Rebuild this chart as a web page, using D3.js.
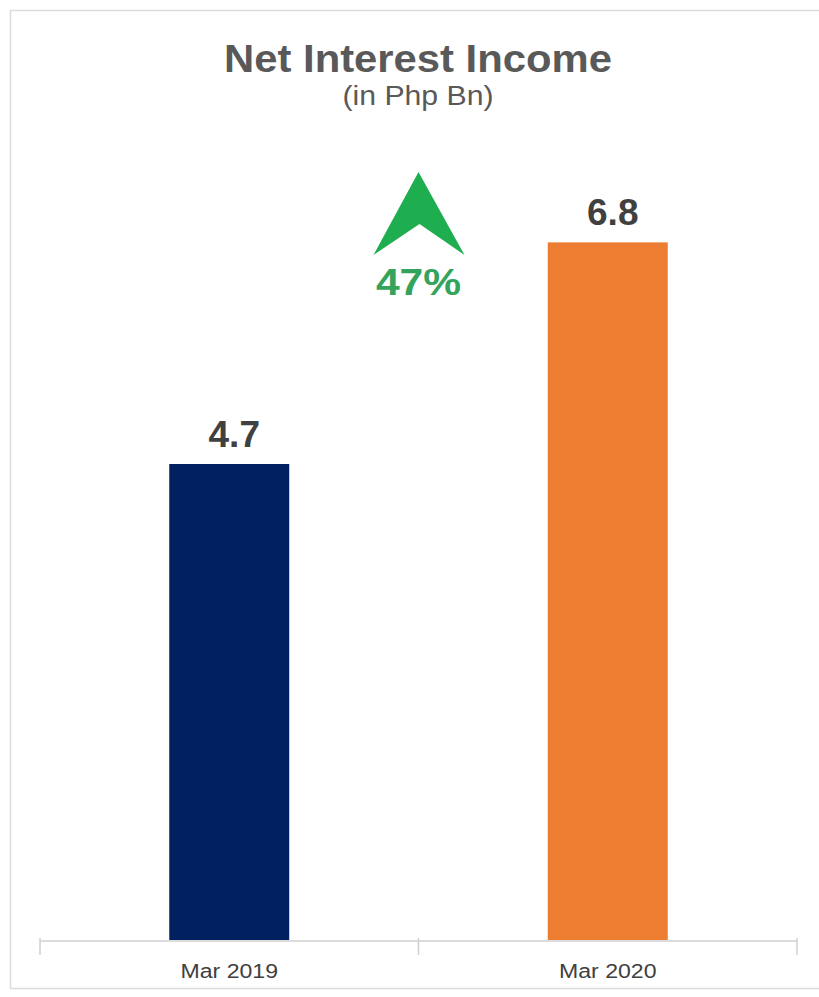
<!DOCTYPE html>
<html><head><meta charset="utf-8">
<script src="https://cdn.jsdelivr.net/npm/d3@7"></script>
<style>html,body{margin:0;padding:0;background:#fff;}svg{display:block;font-family:"Liberation Sans",Arial,sans-serif;}</style>
</head><body>
<script>
const categories = ["Mar 2019", "Mar 2020"];
const values = [4.66, 6.83];
const colors = ["#002060", "#ED7D31"];
const growthLabel = "47%";
const titleText = "Net Interest Income";
const subtitleText = "(in Php Bn)";

const W = 819, H = 997;
const svg = d3.select("body").append("svg").attr("width", W).attr("height", H);

svg.append("rect").attr("x", 10.5).attr("y", 10.5).attr("width", 830).attr("height", 978)
  .attr("fill", "none").attr("stroke", "#dcdcdc").attr("stroke-width", 1.5);

const x = d3.scaleBand().domain(categories).range([40, 797]).paddingInner(0.683).paddingOuter(0.3415);
const y = d3.scaleLinear().domain([0, 7]).range([940, 225]);

// title
svg.append("text").attr("transform", "translate(418,72) scale(1.1,1)")
  .attr("text-anchor", "middle").attr("font-size", 38).attr("font-weight", "bold")
  .attr("fill", "#595959").text(titleText);
svg.append("text").attr("transform", "translate(418,105) scale(1.12,1)")
  .attr("text-anchor", "middle").attr("font-size", 27)
  .attr("fill", "#595959").text(subtitleText);

// bars
svg.selectAll("rect.bar").data(values).join("rect").attr("class", "bar")
  .attr("x", (d, i) => x(categories[i])).attr("width", x.bandwidth())
  .attr("y", d => y(d)).attr("height", d => y(0) - y(d))
  .attr("fill", (d, i) => colors[i]);

// value labels
svg.selectAll("text.val").data(values).join("text").attr("class", "val")
  .attr("x", (d, i) => x(categories[i]) + x.bandwidth() / 2 + 5)
  .attr("y", d => y(d) - 17)
  .attr("text-anchor", "middle").attr("font-size", 37).attr("font-weight", "bold")
  .attr("fill", "#404040").text(d => d3.format(".1f")(d));

// axis line and boundary ticks
const axisY = 941;
const step = x.step();
const boundaries = [x(categories[0]) - step * x.paddingInner() / 2];
categories.forEach(c => boundaries.push(x(c) + x.bandwidth() + step * x.paddingInner() / 2));
svg.append("line").attr("x1", boundaries[0]).attr("x2", boundaries[boundaries.length - 1])
  .attr("y1", axisY).attr("y2", axisY).attr("stroke", "#d0d0d0").attr("stroke-width", 1.5);
svg.selectAll("line.tick").data(boundaries).join("line").attr("class", "tick")
  .attr("x1", d => d).attr("x2", d => d).attr("y1", axisY - 3).attr("y2", axisY + 14)
  .attr("stroke", "#d0d0d0").attr("stroke-width", 1.5);

svg.selectAll("text.cat").data(categories).join("text").attr("class", "cat")
  .attr("transform", d => `translate(${x(d) + x.bandwidth() / 2},978) scale(1.1,1)`)
  .attr("text-anchor", "middle").attr("font-size", 21)
  .attr("fill", "#404040").text(d => d);

// growth arrow
const midX = (x(categories[0]) + x.bandwidth() + x(categories[1])) / 2;
const arrow = d3.path();
arrow.moveTo(midX, 172);
arrow.lineTo(midX + 46, 255);
arrow.lineTo(midX + 1, 224);
arrow.lineTo(midX - 45, 255);
arrow.closePath();
svg.append("path").attr("d", arrow.toString()).attr("fill", "#1FAE4F");
svg.append("text").attr("transform", `translate(${midX},295) scale(1.15,1)`)
  .attr("text-anchor", "middle").attr("font-size", 37).attr("font-weight", "bold")
  .attr("fill", "#34A35C").text(growthLabel);
</script>
</body></html>
